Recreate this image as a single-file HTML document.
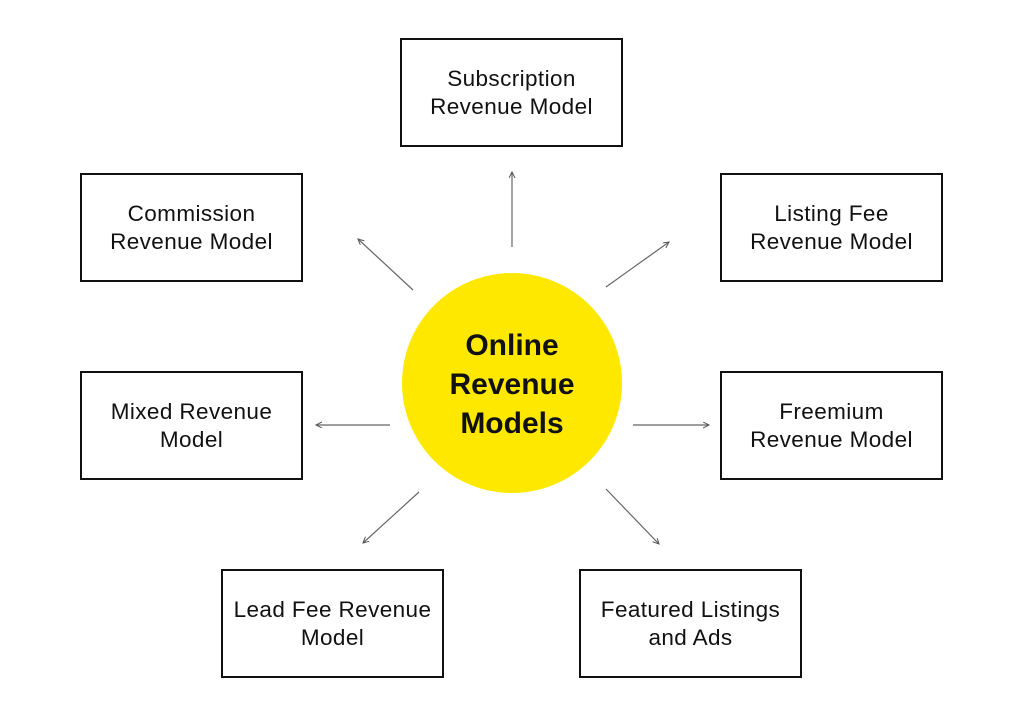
<!DOCTYPE html>
<html><head><meta charset="utf-8"><style>
body{margin:0;width:1024px;height:707px;background:#fff;position:relative;overflow:hidden;font-family:"Liberation Sans",sans-serif}
.b{position:absolute;width:219px;height:105px;border:2px solid #111;display:flex;align-items:center;justify-content:center;text-align:center;font-size:22.5px;letter-spacing:0.4px;line-height:28px;color:#111;box-sizing:content-box;white-space:nowrap}
.c{position:absolute;left:402px;top:273px;width:220px;height:220px;border-radius:50%;background:#FFE800;display:flex;align-items:center;justify-content:center;text-align:center;font-weight:bold;font-size:30px;line-height:39px;color:#111;padding-top:2px;box-sizing:border-box}
svg{position:absolute;left:0;top:0}
</style></head><body>
<div class="b" style="left:400px;top:38px">Subscription<br>Revenue Model</div>
<div class="b" style="left:80px;top:173px">Commission<br>Revenue Model</div>
<div class="b" style="left:720px;top:173px">Listing Fee<br>Revenue Model</div>
<div class="b" style="left:80px;top:371px">Mixed Revenue<br>Model</div>
<div class="b" style="left:720px;top:371px">Freemium<br>Revenue Model</div>
<div class="b" style="left:221px;top:569px">Lead Fee Revenue<br>Model</div>
<div class="b" style="left:579px;top:569px">Featured Listings<br>and Ads</div>
<div class="c">Online<br>Revenue<br>Models</div>
<svg width="1024" height="707">
<defs><marker id="a" markerWidth="8" markerHeight="8" refX="6" refY="3" orient="auto" markerUnits="userSpaceOnUse"><path d="M0,0 L6,3 L0,6" fill="none" stroke="#555" stroke-width="1"/></marker></defs>
<g stroke="#666" stroke-width="1.2" marker-end="url(#a)">
<line x1="512" y1="247" x2="512" y2="172"/>
<line x1="413" y1="290" x2="358" y2="239"/>
<line x1="606" y1="287" x2="669" y2="242"/>
<line x1="390" y1="425" x2="316" y2="425"/>
<line x1="633" y1="425" x2="709" y2="425"/>
<line x1="419" y1="492" x2="363" y2="543"/>
<line x1="606" y1="489" x2="659" y2="544"/>
</g></svg>
</body></html>
